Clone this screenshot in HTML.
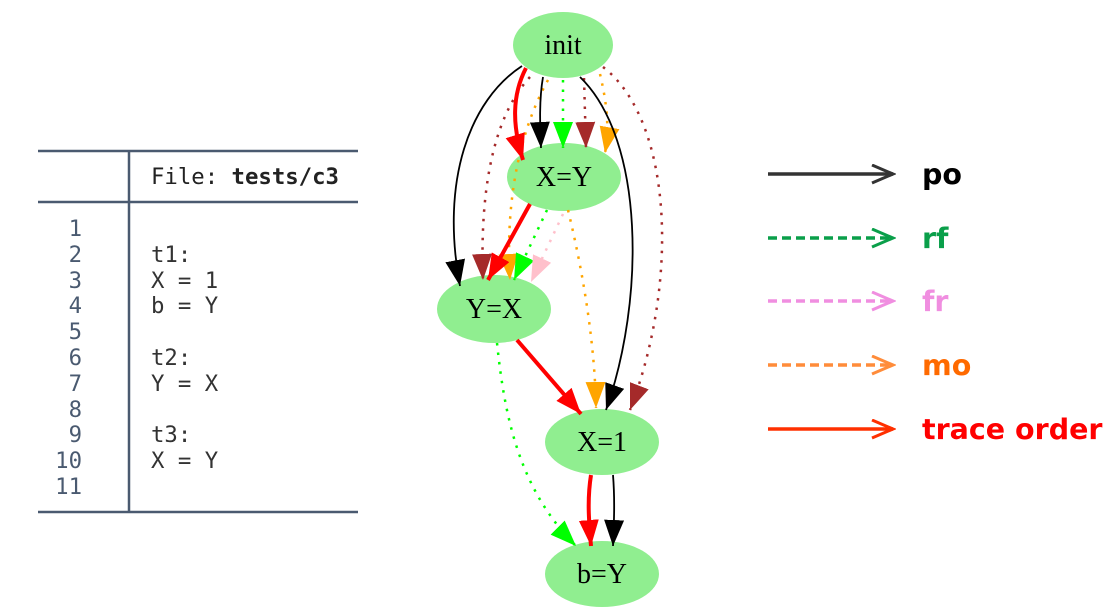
<!DOCTYPE html>
<html><head><meta charset="utf-8"><style>
html,body{margin:0;padding:0;background:#fff;width:1115px;height:616px;overflow:hidden}
svg{display:block}
.mono{font-family:"DejaVu Sans Mono","Liberation Mono",monospace;font-size:22.3px}
.lbl{font-family:"DejaVu Sans","Liberation Sans",sans-serif;font-weight:bold;font-size:28.5px}
.node{font-family:"Liberation Serif","DejaVu Serif",serif;font-size:28px}
</style></head><body>
<svg width="1115" height="616" viewBox="0 0 1115 616">
<defs>
 <marker id="m-black" markerUnits="userSpaceOnUse" viewBox="0 0 28 22" markerWidth="28" markerHeight="22" refX="26" refY="10" orient="auto"><path d="M0,0 L26,10 L0,20 Z" fill="#000"/></marker>
 <marker id="m-red" markerUnits="userSpaceOnUse" viewBox="0 0 28 22" markerWidth="28" markerHeight="22" refX="26" refY="10" orient="auto"><path d="M0,0 L26,10 L0,20 Z" fill="#f00"/></marker>
 <marker id="m-green" markerUnits="userSpaceOnUse" viewBox="0 0 28 22" markerWidth="28" markerHeight="22" refX="26" refY="10" orient="auto"><path d="M0,0 L26,10 L0,20 Z" fill="#0f0"/></marker>
 <marker id="m-brown" markerUnits="userSpaceOnUse" viewBox="0 0 28 22" markerWidth="28" markerHeight="22" refX="26" refY="10" orient="auto"><path d="M0,0 L26,10 L0,20 Z" fill="#a52a2a"/></marker>
 <marker id="m-orange" markerUnits="userSpaceOnUse" viewBox="0 0 28 22" markerWidth="28" markerHeight="22" refX="26" refY="10" orient="auto"><path d="M0,0 L26,10 L0,20 Z" fill="#ffa500"/></marker>
 <marker id="m-pink" markerUnits="userSpaceOnUse" viewBox="0 0 28 22" markerWidth="28" markerHeight="22" refX="26" refY="10" orient="auto"><path d="M0,0 L26,10 L0,20 Z" fill="#ffc0cb"/></marker>
 <marker id="l-black" markerUnits="userSpaceOnUse" viewBox="0 0 26 22" markerWidth="26" markerHeight="22" refX="23" refY="10" orient="auto"><path d="M2,1 L23,10 L2,19" fill="none" stroke="#333" stroke-width="3"/></marker>
 <marker id="l-green" markerUnits="userSpaceOnUse" viewBox="0 0 26 22" markerWidth="26" markerHeight="22" refX="23" refY="10" orient="auto"><path d="M2,1 L23,10 L2,19" fill="none" stroke="#0a9f4a" stroke-width="3"/></marker>
 <marker id="l-pink" markerUnits="userSpaceOnUse" viewBox="0 0 26 22" markerWidth="26" markerHeight="22" refX="23" refY="10" orient="auto"><path d="M2,1 L23,10 L2,19" fill="none" stroke="#f08ee0" stroke-width="3"/></marker>
 <marker id="l-orange" markerUnits="userSpaceOnUse" viewBox="0 0 26 22" markerWidth="26" markerHeight="22" refX="23" refY="10" orient="auto"><path d="M2,1 L23,10 L2,19" fill="none" stroke="#ff8c3a" stroke-width="3"/></marker>
 <marker id="l-red" markerUnits="userSpaceOnUse" viewBox="0 0 26 22" markerWidth="26" markerHeight="22" refX="23" refY="10" orient="auto"><path d="M2,1 L23,10 L2,19" fill="none" stroke="#ff3000" stroke-width="3"/></marker>
</defs>

<g stroke="#4a5a70" stroke-width="2.5">
 <line x1="38" y1="151" x2="358" y2="151"/>
 <line x1="38" y1="202" x2="358" y2="202"/>
 <line x1="38" y1="512" x2="358" y2="512"/>
 <line x1="129" y1="151" x2="129" y2="512"/>
</g>
<text class="mono" x="151" y="184" fill="#222">File: <tspan font-weight="bold">tests/c3</tspan></text>
<g class="mono" fill="#4a5a70" text-anchor="end">
 <text x="82" y="236">1</text><text x="82" y="262">2</text><text x="82" y="288">3</text><text x="82" y="313">4</text><text x="82" y="339">5</text><text x="82" y="365">6</text><text x="82" y="391">7</text><text x="82" y="417">8</text><text x="82" y="442">9</text><text x="82" y="468">10</text><text x="82" y="494">11</text>
</g>
<g class="mono" fill="#333">
 <text x="151" y="262">t1:</text><text x="151" y="288">X = 1</text><text x="151" y="313">b = Y</text>
 <text x="151" y="365">t2:</text><text x="151" y="391">Y = X</text>
 <text x="151" y="442">t3:</text><text x="151" y="468">X = Y</text>
</g>

<g fill="#90ee90">
 <ellipse cx="563" cy="45" rx="50" ry="33"/>
 <ellipse cx="564" cy="177" rx="57" ry="34"/>
 <ellipse cx="494" cy="309" rx="57" ry="34"/>
 <ellipse cx="602" cy="442" rx="57" ry="33"/>
 <ellipse cx="602" cy="574" rx="57" ry="33"/>
</g>
<g class="node" fill="#000" text-anchor="middle">
 <text x="563" y="54">init</text>
 <text x="564" y="186">X=Y</text>
 <text x="494" y="318">Y=X</text>
 <text x="602" y="451">X=1</text>
 <text x="602" y="583">b=Y</text>
</g>

<g fill="none">
 <path d="M522,66 C470,100 440,180 460,286" stroke="#000" stroke-width="1.8" marker-end="url(#m-black)"/>
 <path d="M530,77 C490,120 480,200 483,280" stroke="#a52a2a" stroke-width="2.5" stroke-dasharray="2.5,7" marker-end="url(#m-brown)"/>
 <path d="M548,80 C520,130 505,200 510,280" stroke="#ffa500" stroke-width="2.5" stroke-dasharray="2.5,7" marker-end="url(#m-orange)"/>
 <path d="M526,68 C512,95 512,125 523,160" stroke="#f00" stroke-width="4" marker-end="url(#m-red)"/>
 <path d="M543,77 C539,100 540,125 541,148" stroke="#000" stroke-width="1.8" marker-end="url(#m-black)"/>
 <path d="M563,80 L563,148" stroke="#0f0" stroke-width="2.5" stroke-dasharray="2.5,7" marker-end="url(#m-green)"/>
 <path d="M584,78 L586,148" stroke="#a52a2a" stroke-width="2.5" stroke-dasharray="2.5,7" marker-end="url(#m-brown)"/>
 <path d="M600,74 C606,100 610,125 605,153" stroke="#ffa500" stroke-width="2.5" stroke-dasharray="2.5,7" marker-end="url(#m-orange)"/>
 <path d="M580,77 C645,140 645,300 606,410" stroke="#000" stroke-width="1.8" marker-end="url(#m-black)"/>
 <path d="M603,67 C672,120 680,280 630,410" stroke="#a52a2a" stroke-width="2.5" stroke-dasharray="2.5,7" marker-end="url(#m-brown)"/>
 <path d="M568,210 C585,280 595,350 596,408" stroke="#ffa500" stroke-width="2.5" stroke-dasharray="2.5,7" marker-end="url(#m-orange)"/>
 <path d="M530,204 L488,280" stroke="#f00" stroke-width="4" marker-end="url(#m-red)"/>
 <path d="M547,210 L514,280" stroke="#0f0" stroke-width="2.5" stroke-dasharray="2.5,7" marker-end="url(#m-green)"/>
 <path d="M563,214 L531,282" stroke="#ffc0cb" stroke-width="2.5" stroke-dasharray="2.5,7" marker-end="url(#m-pink)"/>
 <path d="M517,340 L581,414" stroke="#f00" stroke-width="4" marker-end="url(#m-red)"/>
 <path d="M497,343 C505,420 520,490 576,546" stroke="#0f0" stroke-width="2.5" stroke-dasharray="2.5,7" marker-end="url(#m-green)"/>
 <path d="M591,475 C587,500 589,522 591,546" stroke="#f00" stroke-width="4" marker-end="url(#m-red)"/>
 <path d="M613,475 C615,500 614,522 613,546" stroke="#000" stroke-width="1.8" marker-end="url(#m-black)"/>
</g>

<g fill="none" stroke-width="3.5">
 <line x1="768" y1="174" x2="893" y2="174" stroke="#333" marker-end="url(#l-black)"/>
 <line x1="768" y1="238" x2="893" y2="238" stroke="#0a9f4a" stroke-dasharray="9,5" marker-end="url(#l-green)"/>
 <line x1="768" y1="301" x2="893" y2="301" stroke="#f08ee0" stroke-dasharray="9,5" marker-end="url(#l-pink)"/>
 <line x1="768" y1="365" x2="893" y2="365" stroke="#ff8c3a" stroke-dasharray="9,5" marker-end="url(#l-orange)"/>
 <line x1="768" y1="429" x2="893" y2="429" stroke="#ff3000" marker-end="url(#l-red)"/>
</g>
<g class="lbl">
 <text x="922" y="184" fill="#000">po</text>
 <text x="922" y="248" fill="#0a9f4a">rf</text>
 <text x="922" y="311" fill="#f08ee0">fr</text>
 <text x="922" y="375" fill="#ff6a00">mo</text>
 <text x="922" y="439" fill="#ff0000">trace order</text>
</g>
</svg>
</body></html>
